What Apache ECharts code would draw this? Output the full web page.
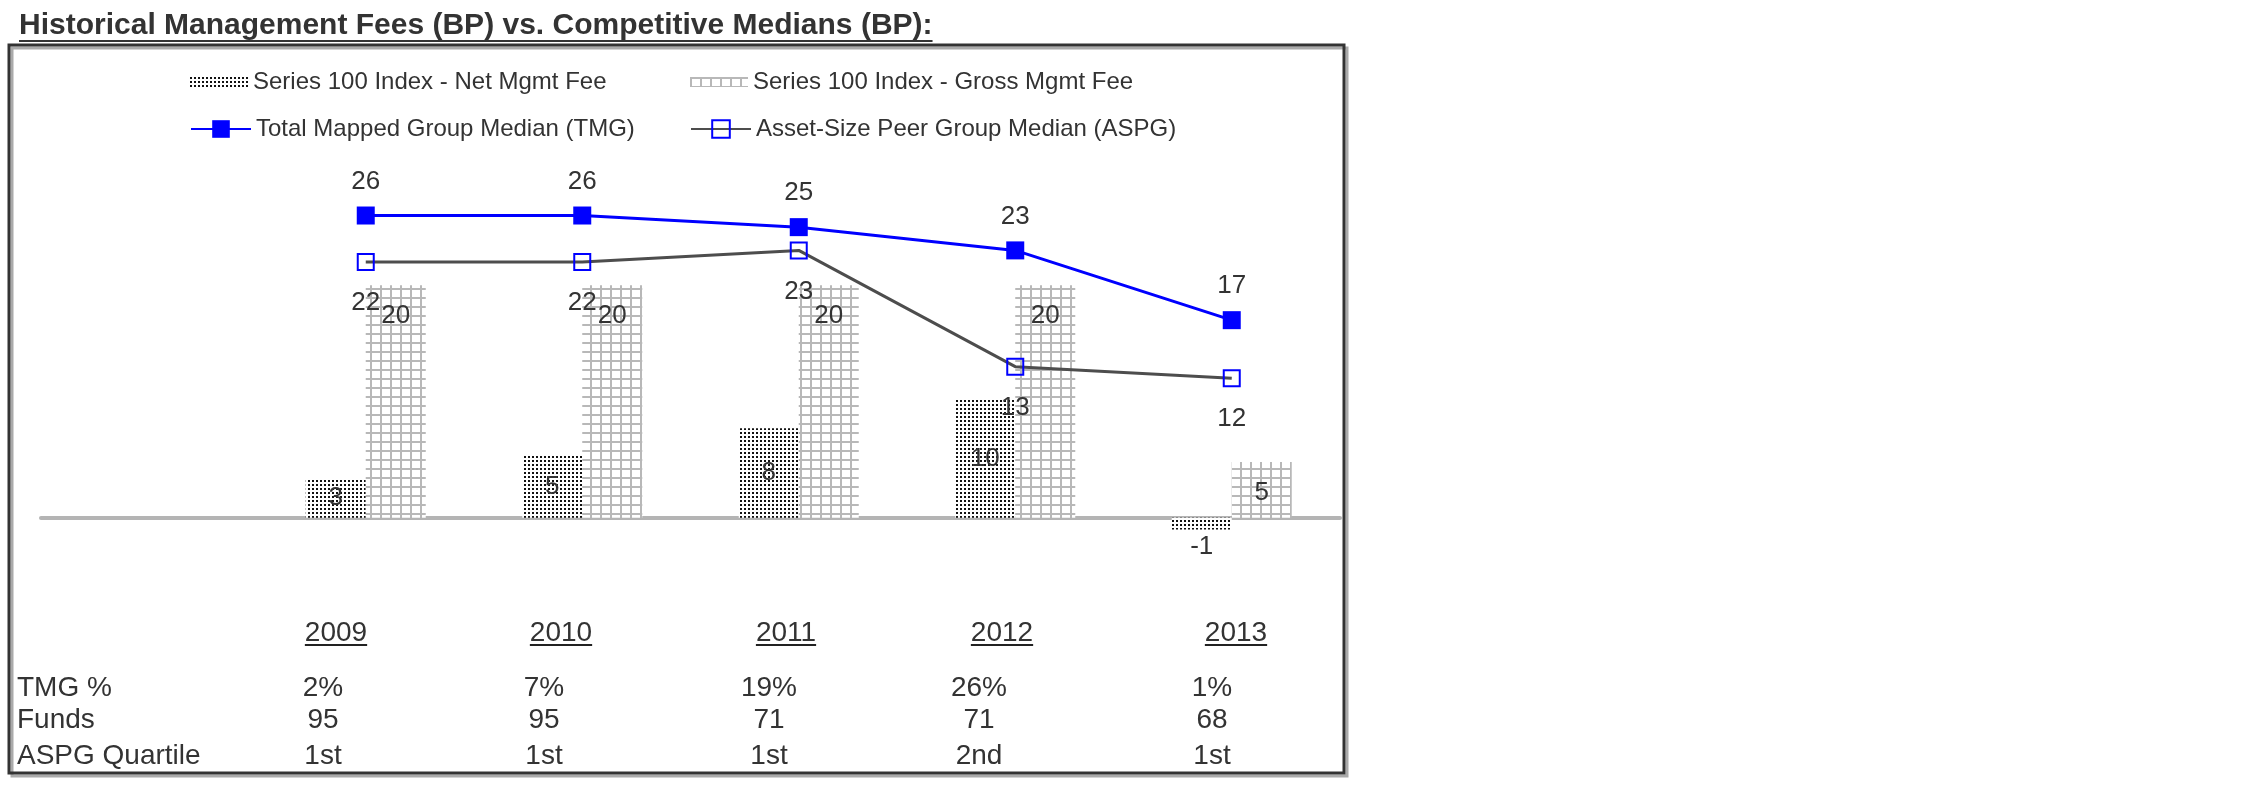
<!DOCTYPE html>
<html><head><meta charset="utf-8">
<script src="https://cdn.jsdelivr.net/npm/echarts@6/dist/echarts.min.js"></script>
<style>html,body{margin:0;padding:0;background:#fff}#chart{width:2250px;height:796px}</style>
</head><body><div id="chart"></div>
<script>
// ---- data ----
const categories = ['2009', '2010', '2011', '2012', '2013'];
const netMgmtFee = [3.4, 5.4, 7.7, 10.2, -1.0];
const grossMgmtFee = [20, 20, 20, 20, 4.8];
const tmgMedian = [26, 26, 25, 23, 17];
const aspgMedian = [22, 22, 23, 13, 12];
const tmgPct = ['2%', '7%', '19%', '26%', '1%'];
const funds = ['95', '95', '71', '71', '68'];
const aspgQuartile = ['1st', '1st', '1st', '2nd', '1st'];
const rowLabels = ['TMG %', 'Funds', 'ASPG Quartile'];
const seriesNames = ['Series 100 Index - Net Mgmt Fee', 'Series 100 Index - Gross Mgmt Fee',
  'Total Mapped Group Median (TMG)', 'Asset-Size Peer Group Median (ASPG)'];
const titleText = 'Historical Management Fees (BP) vs. Competitive Medians (BP):';

// ---- layout ----
const FONT = "'Liberation Sans', Arial, sans-serif";
const TXT = '#333';
const yearColCenters = [336, 561, 786, 1002, 1236];
const valueColCenters = [323, 544, 769, 979, 1212];
const headerY = 633;
const rowYs = [688, 720, 756];

function makePattern(w, h, draw) {
  const c = document.createElement('canvas');
  c.width = w; c.height = h;
  const g = c.getContext('2d');
  g.fillStyle = '#fff'; g.fillRect(0, 0, w, h);
  draw(g);
  return { image: c, repeat: 'repeat' };
}
const netPattern = makePattern(4, 4, g => { g.fillStyle = '#111'; g.fillRect(0, 0, 2, 2); });
const grossPattern = makePattern(10, 9, g => { g.fillStyle = '#b8b8b8'; g.fillRect(0, 0, 2, 9); g.fillRect(0, 0, 10, 2); });

function textWidth(str, font) {
  const c = document.createElement('canvas').getContext('2d');
  c.font = font; return c.measureText(str).width;
}

const pad = arr => ['-'].concat(arr);
const labelBase = { show: true, fontSize: 26, color: TXT, fontFamily: FONT, textBorderWidth: 0 };

const chart = echarts.init(document.getElementById('chart'), null, { renderer: 'canvas' });

const graphics = [];
graphics.push({ type: 'rect', silent: true, shape: { x: 9, y: 45, width: 1335, height: 728 },
  style: { fill: 'none', stroke: '#333', lineWidth: 3, shadowColor: '#aaa', shadowOffsetX: 3, shadowOffsetY: 3, shadowBlur: 0 } });
const tw = textWidth(titleText, 'bold 30px ' + FONT);
graphics.push({ type: 'line', silent: true, shape: { x1: 19, y1: 41, x2: 19 + tw, y2: 41 }, style: { stroke: '#333', lineWidth: 2 } });

categories.forEach((c, i) => {
  graphics.push({ type: 'text', silent: true, x: yearColCenters[i], y: headerY,
    style: { text: c, fill: TXT, font: '28px ' + FONT, align: 'center', verticalAlign: 'middle', textAlign: 'center', textVerticalAlign: 'middle' } });
  const w = textWidth(c, '28px ' + FONT);
  graphics.push({ type: 'line', silent: true, shape: { x1: yearColCenters[i] - w / 2, y1: headerY + 12, x2: yearColCenters[i] + w / 2, y2: headerY + 12 },
    style: { stroke: '#222', lineWidth: 2 } });
});
const rows = [tmgPct, funds, aspgQuartile];
rowLabels.forEach((lab, r) => {
  graphics.push({ type: 'text', silent: true, x: 17, y: rowYs[r],
    style: { text: lab, fill: TXT, font: '28px ' + FONT, align: 'left', verticalAlign: 'middle', textAlign: 'left', textVerticalAlign: 'middle' } });
  rows[r].forEach((v, i) => {
    graphics.push({ type: 'text', silent: true, x: valueColCenters[i], y: rowYs[r],
      style: { text: v, fill: TXT, font: '28px ' + FONT, align: 'center', verticalAlign: 'middle', textAlign: 'center', textVerticalAlign: 'middle' } });
  });
});

const legendText = { fontSize: 24, color: TXT, fontFamily: FONT };
const option = {
  animation: false,
  backgroundColor: '#fff',
  title: { text: titleText, left: 14, top: 6, textStyle: { fontSize: 30, fontWeight: 'bold', color: TXT, fontFamily: FONT } },
  legend: [
    { data: [seriesNames[0]], left: 190, top: 70, padding: 0, itemWidth: 58, itemHeight: 10, icon: 'rect', selectedMode: false, textStyle: legendText },
    { data: [seriesNames[1]], left: 690, top: 70, padding: 0, itemWidth: 58, itemHeight: 10, icon: 'rect', selectedMode: false, textStyle: legendText },
    { data: [seriesNames[2]], left: 190, top: 117, padding: 0, itemWidth: 60, itemHeight: 22, selectedMode: false, textStyle: legendText },
    { data: [seriesNames[3]], left: 690, top: 117, padding: 0, itemWidth: 60, itemHeight: 22, selectedMode: false, textStyle: legendText }
  ],
  grid: { left: 41, top: 169, width: 1299, height: 407, containLabel: false },
  xAxis: {
    type: 'category', data: pad(categories).map(c => c === '-' ? '' : c),
    axisLine: { show: true, onZero: true, lineStyle: { color: '#b4b4b4', width: 4 } },
    axisTick: { show: false }, axisLabel: { show: false }, splitLine: { show: false }
  },
  yAxis: { type: 'value', min: -5, max: 30, show: false, splitLine: { show: false } },
  graphic: graphics,
  series: [
    { name: seriesNames[0], type: 'bar', barWidth: 60, barGap: '0%',
      data: pad(netMgmtFee).map(v => (typeof v === 'number' && v < 0) ? { value: v, label: { position: 'bottom', distance: 4 } } : v),
      itemStyle: { color: netPattern },
      label: Object.assign({}, labelBase, { position: 'inside', formatter: p => Math.round(p.value) }), z: 2 },
    { name: seriesNames[1], type: 'bar', barWidth: 60, barGap: '0%',
      data: pad(grossMgmtFee),
      itemStyle: { color: grossPattern },
      label: Object.assign({}, labelBase, { position: 'insideTop', distance: 18, formatter: p => Math.round(p.value) }), z: 2 },
    { name: seriesNames[2], type: 'line', data: pad(tmgMedian), symbol: 'rect', symbolSize: 18,
      lineStyle: { color: '#0000ff', width: 3 }, itemStyle: { color: '#0000ff' },
      label: Object.assign({}, labelBase, { position: 'top', distance: 12 }), z: 5 },
    { name: seriesNames[3], type: 'line', data: pad(aspgMedian), symbol: 'rect', symbolSize: 16,
      lineStyle: { color: '#4d4d4d', width: 3 }, itemStyle: { color: 'rgba(255,255,255,0)', borderColor: '#0000ff', borderWidth: 2 },
      label: Object.assign({}, labelBase, { position: 'bottom', distance: 19 }), z: 4 }
  ]
};
chart.setOption(option);
</script>
</body></html>
